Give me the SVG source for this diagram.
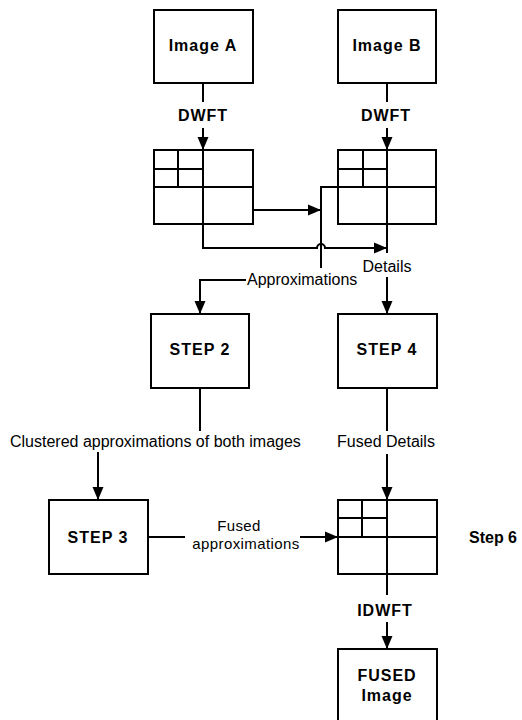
<svg xmlns="http://www.w3.org/2000/svg" width="522" height="720" viewBox="0 0 522 720">
<defs>
<style>
.box{fill:#fff;stroke:#000;stroke-width:2}
.ln{fill:none;stroke:#000;stroke-width:2}
.b{font-family:"Liberation Sans",Arial,sans-serif;font-weight:bold;font-size:16px;letter-spacing:1px;fill:#000}
.r{font-family:"Liberation Sans",Arial,sans-serif;font-size:16px;fill:#000}
.s{font-family:"Liberation Sans",Arial,sans-serif;font-size:15px;letter-spacing:0.4px;fill:#000}
.arr{marker-end:url(#ah)}
</style>
<marker id="ah" markerUnits="userSpaceOnUse" markerWidth="14" markerHeight="12" refX="13" refY="6" orient="auto">
<path d="M0,0.5 L13,6 L0,11.5 Z" fill="#000"/>
</marker>
</defs>
<rect width="522" height="720" fill="#fff"/>

<g id="connectors">
<line class="ln" x1="203" y1="83" x2="203" y2="102"/>
<line class="ln arr" x1="203" y1="128" x2="203" y2="150"/>
<line class="ln" x1="387" y1="83" x2="387" y2="102"/>
<line class="ln arr" x1="387" y1="128" x2="387" y2="150"/>
<line class="ln arr" x1="253" y1="210" x2="321" y2="210"/>
<path class="ln" d="M338,187 H321 V268"/>
<path class="ln arr" d="M246,280 H200 V314"/>
<path class="ln arr" d="M203,224 V248 H317 A4,4 0 0 1 325,248 H387"/>
<line class="ln" x1="387" y1="224" x2="387" y2="253"/>
<line class="ln arr" x1="387" y1="277" x2="387" y2="314"/>
<line class="ln" x1="200" y1="388" x2="200" y2="431"/>
<line class="ln arr" x1="98" y1="452" x2="98" y2="500"/>
<line class="ln" x1="387" y1="388" x2="387" y2="431"/>
<line class="ln arr" x1="387" y1="454" x2="387" y2="500"/>
<line class="ln" x1="148" y1="537" x2="185" y2="537"/>
<line class="ln arr" x1="300" y1="537" x2="338" y2="537"/>
<line class="ln" x1="387" y1="574" x2="387" y2="595"/>
<line class="ln arr" x1="387" y1="622" x2="387" y2="649"/>
</g>

<g id="labels">
<text class="b" x="203" y="121" text-anchor="middle">DWFT</text>
<text class="b" x="386" y="121" text-anchor="middle">DWFT</text>
<text class="r" x="387" y="272" text-anchor="middle">Details</text>
<text class="r" x="247" y="285">Approximations</text>
<text class="r" x="10" y="447">Clustered approximations of both images</text>
<text class="r" x="386" y="447" text-anchor="middle">Fused Details</text>
<text class="s" x="239" y="531" text-anchor="middle">Fused</text>
<text class="s" x="246" y="549" text-anchor="middle">approximations</text>
<text class="b" x="385" y="616" text-anchor="middle">IDWFT</text>
<text class="b" x="469" y="543" style="letter-spacing:0">Step 6</text>
</g>

<g id="imageA">
<rect class="box" x="154" y="10" width="99" height="73"/>
<text class="b" x="203" y="51" text-anchor="middle">Image A</text>
</g>
<g id="imageB">
<rect class="box" x="338" y="10" width="98" height="73"/>
<text class="b" x="387" y="51" text-anchor="middle">Image B</text>
</g>
<g id="gridA">
<rect class="box" x="154" y="150" width="99" height="74"/>
<path class="ln" d="M203,150 V224 M154,187 H253 M178,150 V187 M154,169 H203"/>
</g>
<g id="gridB">
<rect class="box" x="338" y="150" width="98" height="74"/>
<path class="ln" d="M387,150 V224 M338,187 H436 M363,150 V187 M338,169 H387"/>
</g>
<g id="step2">
<rect class="box" x="151" y="314" width="98" height="74"/>
<text class="b" x="200" y="355" text-anchor="middle">STEP 2</text>
</g>
<g id="step4">
<rect class="box" x="338" y="314" width="99" height="74"/>
<text class="b" x="387" y="355" text-anchor="middle">STEP 4</text>
</g>
<g id="step3">
<rect class="box" x="49" y="500" width="99" height="74"/>
<text class="b" x="98" y="543" text-anchor="middle">STEP 3</text>
</g>
<g id="gridC">
<rect class="box" x="338" y="500" width="99" height="74"/>
<path class="ln" d="M387,500 V574 M338,537 H437 M362,500 V537 M338,518 H387"/>
</g>
<g id="fused">
<rect class="box" x="338" y="649" width="99" height="80"/>
<text class="b" x="387" y="681" text-anchor="middle">FUSED</text>
<text class="b" x="387" y="701" text-anchor="middle">Image</text>
</g>
</svg>
